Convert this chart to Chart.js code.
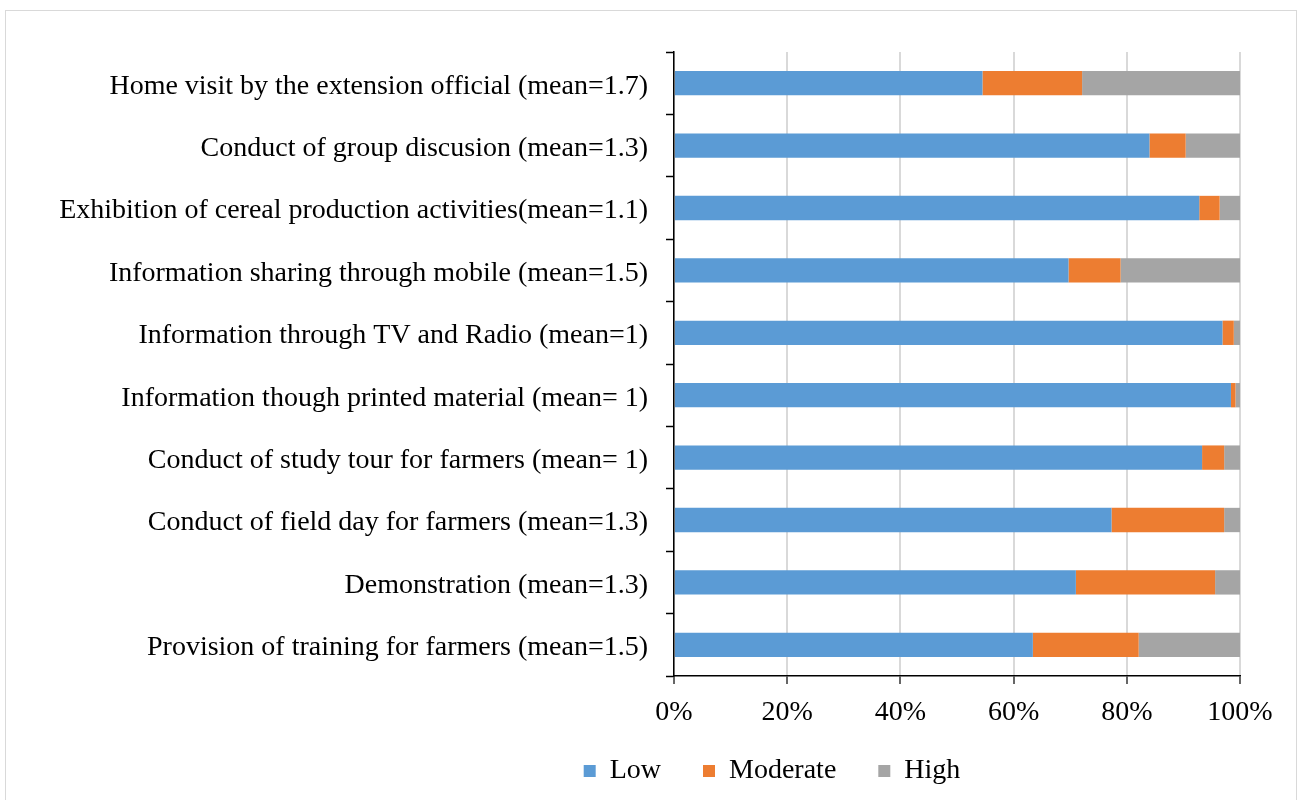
<!DOCTYPE html>
<html>
<head>
<meta charset="utf-8">
<script src="https://cdn.jsdelivr.net/npm/chart.js@4.4.0/dist/chart.umd.min.js"></script>
<style>
    html, body { margin: 0; padding: 0; background: #fff; }
    #frame {
        position: absolute; left: 5px; top: 10px; width: 1292px; height: 800px;
        border: 1px solid #d9d9d9; box-sizing: border-box;
    }
    #wrap { position: absolute; left: 0; top: 0; width: 1304px; height: 800px; }
</style>
</head>
<body>
<div id="frame"></div>
<div id="wrap"><canvas id="practiceChart"></canvas></div>
<script>
const categories = [
    'Home visit by the extension official (mean=1.7)',
    'Conduct of group discusion (mean=1.3)',
    'Exhibition of cereal production activities(mean=1.1)',
    'Information sharing through mobile (mean=1.5)',
    'Information through TV and Radio (mean=1)',
    'Information though printed material (mean= 1)',
    'Conduct of study tour for farmers (mean= 1)',
    'Conduct of field day for farmers (mean=1.3)',
    'Demonstration (mean=1.3)',
    'Provision of training for farmers (mean=1.5)'
];
const lowValues      = [54.5, 84.0, 92.8, 69.7, 96.9, 98.4, 93.3, 77.3, 71.0, 63.4];
const moderateValues = [17.6, 6.4, 3.6, 9.2, 2.0, 0.8, 3.9, 19.9, 24.6, 18.7];
const highValues     = [27.9, 9.6, 3.6, 21.1, 1.1, 0.8, 2.8, 2.8, 4.4, 17.9];
const xTicks = [0, 20, 40, 60, 80, 100];

const serif = "'Liberation Serif', 'Times New Roman', serif";

// legend sits under the plot area, not under the whole canvas
const legendShift = {
    id: 'legendShift',
    afterLayout(chart) {
        const lg = chart.legend;
        if (!lg) return;
        lg.left += 152;
        lg.right += 152;
        lg.top -= 17;
        lg.bottom -= 17;
    }
};

document.addEventListener('DOMContentLoaded', function() {
    const ctx = document.getElementById('practiceChart').getContext('2d');
    new Chart(ctx, {
        type: 'bar',
        data: {
            labels: categories,
            datasets: [
                { label: 'Low', data: lowValues, backgroundColor: '#5B9BD5' },
                { label: 'Moderate', data: moderateValues, backgroundColor: '#ED7D31' },
                { label: 'High', data: highValues, backgroundColor: '#A5A5A5' }
            ]
        },
        plugins: [legendShift],
        options: {
            indexAxis: 'y',
            responsive: true,
            maintainAspectRatio: false,
            animation: false,
            datasets: {
                bar: { categoryPercentage: 1, barPercentage: 0.39, borderWidth: 0 }
            },
            layout: { padding: { top: 52, right: 64, bottom: -12, left: 0 } },
            scales: {
                x: {
                    stacked: true,
                    min: 0,
                    max: 100,
                    afterBuildTicks: function(scale) {
                        scale.ticks = xTicks.map(v => ({ value: v }));
                    },
                    afterFit: function(scale) { scale.height = 56; },
                    ticks: {
                        callback: v => v + '%',
                        color: '#000',
                        padding: 12,
                        maxRotation: 0,
                        font: { family: serif, size: 28 }
                    },
                    grid: { color: '#d9d9d9', lineWidth: 2, tickLength: 8, tickColor: '#333', tickWidth: 1.5 },
                    border: { display: true, color: '#000', width: 1.5 }
                },
                y: {
                    stacked: true,
                    afterFit: function(scale) { scale.width = 674; },
                    ticks: {
                        color: '#000',
                        padding: 18,
                        labelOffset: 3,
                        font: { family: serif, size: 28 }
                    },
                    grid: { drawOnChartArea: false, tickLength: 8, tickColor: '#000', tickWidth: 1.5 },
                    border: { display: true, color: '#000', width: 1.5 }
                }
            },
            plugins: {
                legend: {
                    position: 'bottom',
                    labels: {
                        color: '#000',
                        boxWidth: 12,
                        boxHeight: 12,
                        padding: 42,
                        font: { family: serif, size: 28 }
                    }
                },
                tooltip: { enabled: false }
            }
        }
    });
});
</script>
</body>
</html>
